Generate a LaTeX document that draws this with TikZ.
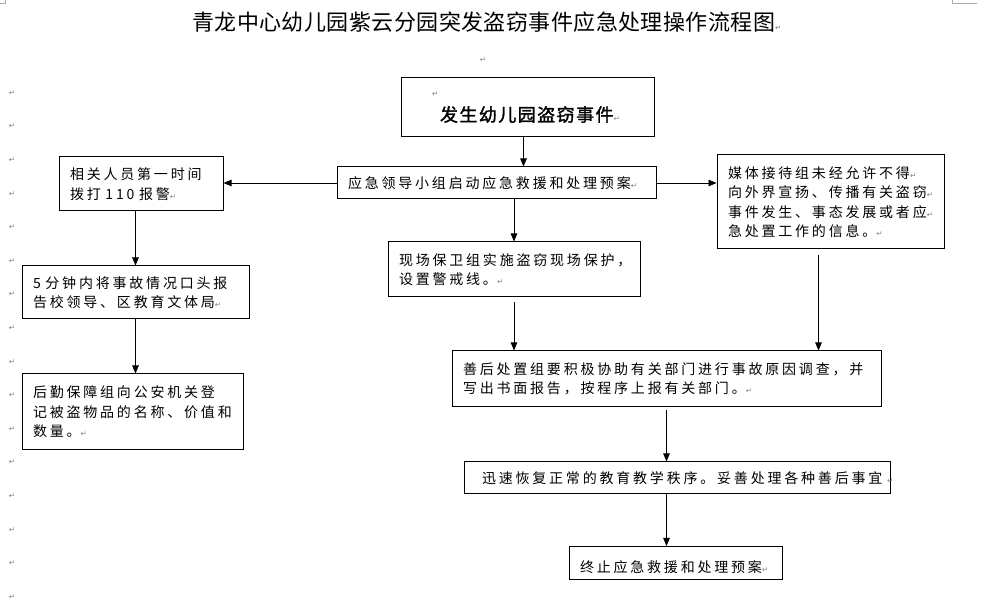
\documentclass[tikz,border=0pt]{standalone}
\usepackage{fontspec}
\newfontfamily\cjk{Noto Sans CJK SC}[LetterSpace=20]
\newfontfamily\cjktitle{Noto Sans CJK SC}[LetterSpace=2]
\newfontfamily\cjkbold{Noto Sans CJK SC}[FakeBold=1.6,LetterSpace=8]
\newfontfamily\pmfont{DejaVu Sans}
\usetikzlibrary{arrows.meta}
\definecolor{pmgray}{RGB}{128,128,128}
\definecolor{markgray}{RGB}{170,170,170}
\newcommand{\pmk}{{\pmfont\fontsize{7.5}{7.5}\selectfont\textcolor{pmgray}{↵}}}

\tikzset{%
  every node/.style={
    inner sep=1pt
  },
  box/.style={draw, line width=1pt, inner xsep=11pt, inner ysep=0pt,
    align=left, font=\cjk\fontsize{14}{19.5}\selectfont},
  pm/.style={font=\pmfont\fontsize{7.5}{7.5}\selectfont, text=pmgray, inner sep=0pt},
  arr/.style={-{Triangle[length=8pt,width=6.5pt]}, line width=0.8pt}
}

\begin{document}
\begin{tikzpicture}[x=1pt,y=-1pt]
      \useasboundingbox (0,0) rectangle (986,601);
      \draw[markgray] (0,3) -- (5,3) -- (5,0);
      \draw[markgray] (952,0) -- (952,3) -- (977,3);
      \node[anchor=west, font=\cjktitle\fontsize{22}{22}\selectfont] at (191,22) (t) {青龙中心幼儿园紫云分园突发盗窃事件应急处理操作流程图\pmk};
      \node[pm] at (483,60) (p0) {↵};
      \foreach \i in {0,...,15}
        \node[pm] at (12,{93+33.6*\i}) (m\i) {↵};
      \node[box, inner xsep=31pt, text width=191pt, minimum height=59pt] at (527.5,107.5) (0) {\pmk\\[5pt]\hspace{8pt}{\cjkbold\fontsize{18}{18}\selectfont 发生幼儿园盗窃事件}\pmk};
      \node[box, text width=297pt, minimum height=32pt] at (496.5,183) (1) {应急领导小组启动应急救援和处理预案\pmk};
      \node[box, text width=142pt, minimum height=54pt] at (141,184) (2) {相关人员第一时间\\拨打~110~报警\pmk};
      \node[box, text width=205pt, minimum height=53pt] at (135.5,292.5) (3) {5~分钟内将事故情况口头报\\告校领导、区教育文体局\pmk};
      \node[box, text width=199pt, minimum height=76pt] at (132.5,412) (4) {后勤保障组向公安机关登\\记被盗物品的名称、价值和\\数量。\pmk};
      \node[box, text width=230pt, minimum height=55pt] at (514,269.5) (5) {现场保卫组实施盗窃现场保护，\\设置警戒线。\pmk};
      \node[box, text width=205pt, minimum height=94pt] at (830.5,202) (6) {媒体接待组未经允许不得\pmk\\向外界宣扬、传播有关盗窃\pmk\\事件发生、事态发展或者应\pmk\\急处置工作的信息。\pmk};
      \node[box, text width=407pt, minimum height=56pt] at (666.5,379) (7) {善后处置组要积极协助有关部门进行事故原因调查，并\\写出书面报告，按程序上报有关部门。\pmk};
      \node[box, text width=404pt, minimum height=32pt] at (677,478) (8) {\hspace{7pt}迅速恢复正常的教育教学秩序。妥善处理各种善后事宜~\pmk};
      \node[box, text width=191pt, minimum height=33pt] at (675.5,563) (9) {\hspace{8pt}终止应急救援和处理预案\pmk};
      \draw[arr] ([xshift=-4]0.south) -- ([xshift=-4]0.south |- 1.north);
      \draw[arr] (1.west) -- (1.west -| 2.east);
      \draw[arr] (1.east) -- (1.east -| 6.west);
      \draw[arr] (5.north |- 1.south) -- (5.north);
      \draw[arr] (3.north |- 2.south) -- (3.north);
      \draw[arr] (3.south) -- (3.south |- 4.north);
      \draw[arr, shorten <=5pt] (5.south) -- (5.south |- 7.north);
      \draw[arr, shorten <=6pt] ([xshift=-12]6.south) -- ([xshift=-12]6.south |- 7.north);
      \draw[arr, shorten <=3pt] (7.south) -- (7.south |- 8.north);
      \draw[arr] (7.south |- 8.south) -- (7.south |- 9.north);
    \end{tikzpicture}
\end{document}
